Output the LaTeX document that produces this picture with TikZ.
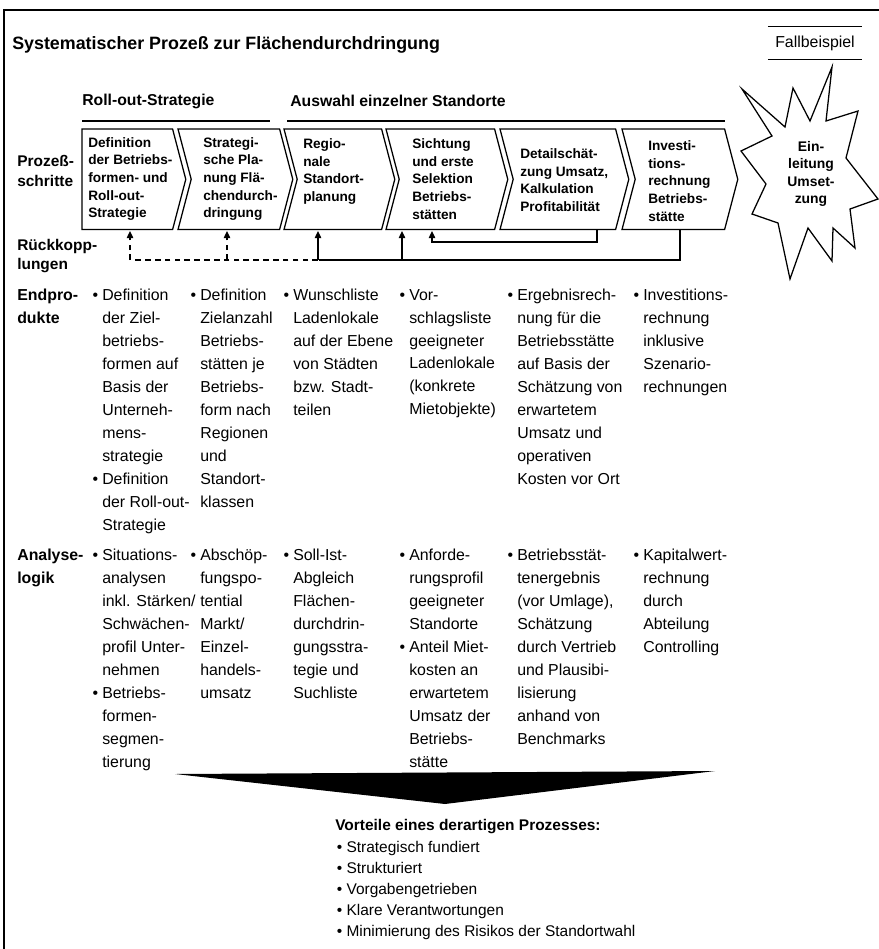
\documentclass[tikz,border=0pt]{standalone}
\usepackage{fontspec}
\setmainfont{Liberation Sans}
\usetikzlibrary{arrows.meta,positioning}
\newcommand{\bu}{\llap{\textbullet\hspace{3pt}}}

\begin{document}
\begin{tikzpicture}[x=0.025cm,y=-0.025cm,>={Triangle[length=5pt,width=4.5pt]},
  every node/.style={inner sep=0pt},
  stepbox/.style={minimum width=#1,minimum height=2.5cm,anchor=north west},
  steptext/.style={anchor=west,align=left,font=\bfseries\fontsize{9.7}{12.6}\selectfont},
  rowlabel/.style={anchor=west,align=left,font=\bfseries\fontsize{11}{14}\selectfont},
  bullets/.style={anchor=north west,align=left,font=\fontsize{11.3}{16.3}\selectfont},
  fb/.style={line width=1pt,shorten >=1pt}]
\useasboundingbox (0,0) rectangle (879,949);
\draw[line width=0.8pt] (879,10) -- (4,10) -- (4,949);
% title and case label
\node[anchor=west,font=\bfseries\fontsize{12.7}{16}\selectfont] (title) at (12,45) {Systematischer Prozeß zur Flächendurchdringung};
\node[font=\fontsize{11.3}{13}\selectfont,inner xsep=5pt,minimum height=0.82cm] (fall) at (815,43) {Fallbeispiel};
\draw[line width=0.8pt] (fall.north west) -- (fall.north east) (fall.south west) -- (fall.south east);
% phase headers
\node[anchor=west,font=\bfseries\fontsize{11.2}{13}\selectfont] (hroll) at (82,101) {Roll-out-Strategie};
\node[anchor=west,font=\bfseries\fontsize{11.2}{13}\selectfont] (hwahl) at (290,101) {Auswahl einzelner Standorte};
\draw[line width=0.8pt] (82,121) -- (270,121);
\draw[line width=0.8pt] (287,121) -- (725,121);
% process steps
\node[stepbox=2.25cm] (b1) at (82,129) {};
\node[stepbox=2.525cm] (b2) at (178,129) {};
\node[stepbox=2.425cm] (b3) at (284,129) {};
\node[stepbox=2.7cm] (b4) at (386,129) {};
\node[stepbox=2.875cm] (b5) at (500,129) {};
\node[stepbox=2.55cm] (b6) at (622,129) {};
\draw[line width=0.9pt] (b1.north west) -- (b1.north east) -- ([xshift=0.33cm]b1.east) -- (b1.south east) -- (b1.south west) -- cycle;
\foreach \b in {b2,b3,b4,b5,b6}
  \draw[line width=0.9pt] (\b.north west) -- (\b.north east) -- ([xshift=0.33cm]\b.east) -- (\b.south east) -- (\b.south west) -- ([xshift=0.33cm]\b.west) -- cycle;
\node[steptext] (t1) at (88,179) {Definition\\der Betriebs-\\formen- und\\Roll-out-\\Strategie};
\node[steptext] (t2) at (203,179) {Strategi-\\sche Pla-\\nung Flä-\\chendurch-\\dringung};
\node[steptext] (t3) at (303,179) {Regio-\\nale\\Standort-\\planung\\\mbox{}};
\node[steptext] (t4) at (412,179) {Sichtung\\und erste\\Selektion\\Betriebs-\\stätten};
\node[steptext] (t5) at (520,180) {Detailschät-\\zung Umsatz,\\Kalkulation\\Profitabilität};
\node[steptext] (t6) at (648,181) {Investi-\\tions-\\rechnung\\Betriebs-\\stätte};
% star
\draw[line width=0.9pt,line join=miter] (832,67) -- (826,121) -- (858,111) -- (846,158) -- (878,199) -- (850,209)
  -- (855,248) -- (833,228) -- (832,261) -- (808,228) -- (790,279) -- (778,223) -- (752,214) -- (766,184)
  -- (741,151) -- (772,136) -- (742,89) -- (785,127) -- (793,88) -- (810,121) -- cycle;
\node[align=center,font=\bfseries\fontsize{9.9}{12.4}\selectfont] (umsetz) at (811,174) {Ein-\\leitung\\Umset-\\zung};
% row labels
\node[rowlabel] (lproz) at (17,171) {Prozeß-\\schritte};
\node[rowlabel] (lrueck) at (17,256) {Rückkopp-\\lungen};
\node[rowlabel,anchor=north west,font=\bfseries\fontsize{11.3}{16.3}\selectfont] (lend) at (17,289) {Endpro-\\dukte};
\node[rowlabel,anchor=north west,font=\bfseries\fontsize{11.3}{16.3}\selectfont] (lana) at (17,549) {Analyse-\\logik};
% feedback
\coordinate (r1) at (130,260);
\coordinate (r2) at (227,260);
\coordinate (r3) at (318,260);
\coordinate (r4) at (402,260);
\coordinate (r6) at (680,260);
\coordinate (q4) at (432,242);
\coordinate (q5) at (597,242);
\draw[fb] (r6 |- b6.south) -- (r6) -- (r3);
\draw[fb,->] (r3) -- (r3 |- b3.south);
\draw[fb,->] (r4) -- (r4 |- b4.south);
\draw[fb,->] (q5 |- b5.south) -- (q5) -- (q4) -- (q4 |- b4.south);
\draw[fb,dash pattern=on 4pt off 3pt] (r3) -- (r1);
\draw[fb,dash pattern=on 4pt off 3pt,->] (r2) -- (r2 |- b2.south);
\draw[fb,dash pattern=on 4pt off 3pt,->] (r1) -- (r1 |- b1.south);
% end products
\node[bullets] (e1) at (102,289) {\bu Definition\\der Ziel-\\betriebs-\\formen auf\\Basis der\\Unterneh-\\mens-\\strategie\\\bu Definition\\der Roll-out-\\Strategie};
\node[bullets] (e2) at (200,289) {\bu Definition\\Zielanzahl\\Betriebs-\\stätten je\\Betriebs-\\form nach\\Regionen\\und\\Standort-\\klassen};
\node[bullets] (e3) at (293,289) {\bu Wunschliste\\Ladenlokale\\auf der Ebene\\von Städten\\bzw. Stadt-\\teilen};
\node[bullets] (e4) at (409,289) {\bu Vor-\\schlagsliste\\geeigneter\\Ladenlokale\\(konkrete\\Mietobjekte)};
\node[bullets] (e5) at (517,289) {\bu Ergebnisrech-\\nung für die\\Betriebsstätte\\auf Basis der\\Schätzung von\\erwartetem\\Umsatz und\\operativen\\Kosten vor Ort};
\node[bullets] (e6) at (643,289) {\bu Investitions-\\rechnung\\inklusive\\Szenario-\\rechnungen};
% analysis logic
\node[bullets] (a1) at (102,549) {\bu Situations-\\analysen\\inkl. Stärken/\\Schwächen-\\profil Unter-\\nehmen\\\bu Betriebs-\\formen-\\segmen-\\tierung};
\node[bullets] (a2) at (200,549) {\bu Abschöp-\\fungspo-\\tential\\Markt/\\Einzel-\\handels-\\umsatz};
\node[bullets] (a3) at (293,549) {\bu Soll-Ist-\\Abgleich\\Flächen-\\durchdrin-\\gungsstra-\\tegie und\\Suchliste};
\node[bullets] (a4) at (409,549) {\bu Anforde-\\rungsprofil\\geeigneter\\Standorte\\\bu Anteil Miet-\\kosten an\\erwartetem\\Umsatz der\\Betriebs-\\stätte};
\node[bullets] (a5) at (517,549) {\bu Betriebsstät-\\tenergebnis\\(vor Umlage),\\Schätzung\\durch Vertrieb\\und Plausibi-\\lisierung\\anhand von\\Benchmarks};
\node[bullets] (a6) at (643,549) {\bu Kapitalwert-\\rechnung\\durch\\Abteilung\\Controlling};
% summary
\fill (175,774) -- (715,771) -- (445,804) -- cycle;
\node[anchor=north west,font=\bfseries\fontsize{11}{14}\selectfont] (vort) at (335,819) {Vorteile eines derartigen Prozesses:};
\node[bullets,font=\fontsize{11}{15}\selectfont,below right=5pt and 8pt of vort.south west,anchor=north west] (vlist) {\bu Strategisch fundiert\\\bu Strukturiert\\\bu Vorgabengetrieben\\\bu Klare Verantwortungen\\\bu Minimierung des Risikos der Standortwahl};
\end{tikzpicture}
\end{document}
